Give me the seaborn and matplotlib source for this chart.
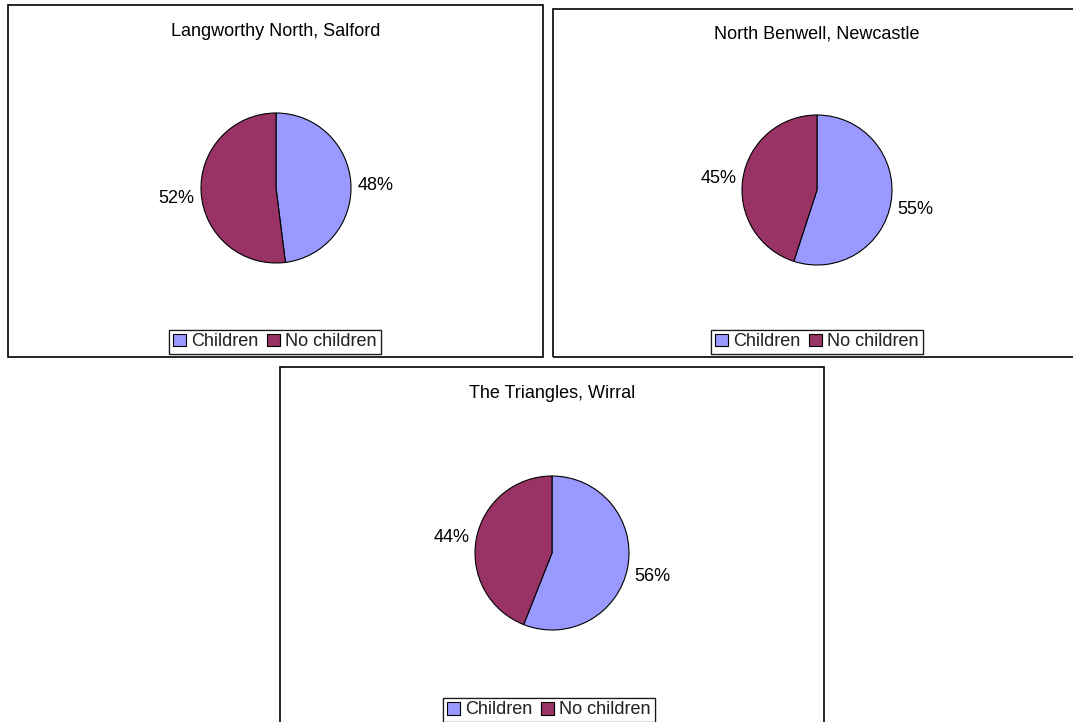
import matplotlib
matplotlib.use("Agg")
import matplotlib.pyplot as plt
from matplotlib.patches import Rectangle, Patch
import seaborn as sns

# ---- data ----
areas = ["Langworthy North, Salford", "North Benwell, Newcastle", "The Triangles, Wirral"]
categories = ["Children", "No children"]
children = [48, 55, 56]
no_children = [52, 45, 44]

sns.set_theme(style="white")
plt.rcParams['font.family'] = ['Liberation Sans', 'DejaVu Sans']
colors = sns.color_palette(["#9999FF", "#993366"])

W, H = 1073, 722
fig = plt.figure(figsize=(W / 100, H / 100), dpi=100)
fig.patch.set_facecolor("white")

def fx(px):
    return px / W

def fy(py):
    return 1 - py / H

FS = 13

# panel frames (pixel coords: left, top, right, bottom)
panels = [(8, 5, 543, 357), (553, 9, 1080, 357), (280, 367, 824, 730)]
# pie centres and radii (pixels)
pies = [(276, 188, 75), (817, 190, 75), (552, 553, 77)]
titles_y = [31, 34, 393]
legend_y = [342, 342, 710]
legend_x = [275, 817, 549]

for (l, t, r, b) in panels:
    fig.add_artist(Rectangle((fx(l), fy(b)), fx(r) - fx(l), fy(t) - fy(b),
                             transform=fig.transFigure, fill=False,
                             edgecolor="black", linewidth=1.2, clip_on=False))

handles = [Patch(facecolor=colors[i], edgecolor="black", linewidth=0.8, label=categories[i])
           for i in range(2)]

for i, area in enumerate(areas):
    cx, cy, rad = pies[i]
    ax = fig.add_axes([fx(cx - rad), fy(cy + rad), 2 * rad / W, 2 * rad / H])
    vals = [children[i], no_children[i]]
    ax.pie(vals, colors=colors, startangle=90, counterclock=False,
           labels=[f"{v}%" for v in vals], labeldistance=1.33,
           wedgeprops=dict(edgecolor="black", linewidth=0.8),
           textprops=dict(fontsize=FS, color="black", ha="center", va="center"))
    for txt in ax.texts:
        txt.set_horizontalalignment("center")
        x, y = txt.get_position()
        txt.set_position((x, y - 0.05))
    ax.set_xlim(-1, 1)
    ax.set_ylim(-1, 1)
    ax.axis("off")

    fig.text(fx(cx), fy(titles_y[i]), area, ha="center", va="center",
             fontsize=FS, color="black")

    leg = fig.legend(handles=handles, loc="center",
                     bbox_to_anchor=(fx(legend_x[i]), fy(legend_y[i])),
                     ncol=2, fontsize=FS, frameon=True, fancybox=False,
                     handlelength=0.7, handleheight=0.7, handletextpad=0.3,
                     columnspacing=0.5, borderpad=0.2, borderaxespad=0)
    leg.get_frame().set_edgecolor("black")
    leg.get_frame().set_linewidth(0.9)
    fig.add_artist(leg)

fig.savefig("out.png", dpi=100, facecolor="white")
